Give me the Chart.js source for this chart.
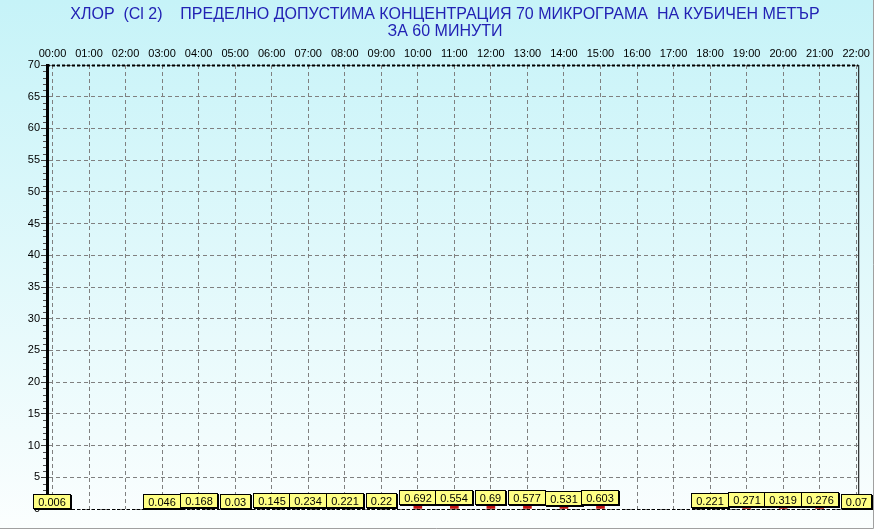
<!DOCTYPE html>
<html><head><meta charset="utf-8">
<script src="https://cdn.jsdelivr.net/npm/chart.js@4/dist/chart.umd.min.js"></script>
<style>html,body{margin:0;padding:0;background:#fff;overflow:hidden}canvas{display:block}</style>
</head><body>
<canvas id="c" width="874" height="529"></canvas>
<script>
const titleLines = [
  'ХЛОР  (Cl 2)    ПРЕДЕЛНО ДОПУСТИМА КОНЦЕНТРАЦИЯ 70 МИКРОГРАМА  НА КУБИЧЕН МЕТЪР',
  'ЗА 60 МИНУТИ'
];
const hours = [0,1,2,3,4,5,6,7,8,9,10,11,12,13,14,15,16,17,18,19,20,21,22];
const hourLabels = ['00:00','01:00','02:00','03:00','04:00','05:00','06:00','07:00','08:00','09:00','10:00','11:00','12:00','13:00','14:00','15:00','16:00','17:00','18:00','19:00','20:00','21:00','22:00'];
const values = [0.006,null,null,0.046,0.168,0.03,0.145,0.234,0.221,0.22,0.692,0.554,0.69,0.577,0.531,0.603,null,null,0.221,0.271,0.319,0.276,0.07];
const yMin = 0, yMax = 70, yStep = 5, yMinorStep = 1;

const FONT = '"Liberation Sans", Arial, sans-serif';

const decor = {
  id: 'decor',
  beforeDraw(chart) {
    const {ctx, width, height} = chart;
    const g = ctx.createLinearGradient(0, 0, 0, height);
    g.addColorStop(0, '#c6f3f8');
    g.addColorStop(1, '#fbfefe');
    ctx.save();
    ctx.fillStyle = g;
    ctx.fillRect(0, 0, width, height);
    ctx.restore();
  },
  afterDraw(chart) {
    const {ctx, chartArea: a, width, height} = chart;
    const y = chart.scales.y;
    ctx.save();
    // minor ticks
    ctx.strokeStyle = '#505050';
    ctx.lineWidth = 1;
    for (let v = yMin; v <= yMax; v += yMinorStep) {
      if (v % yStep === 0) continue;
      const py = Math.round(y.getPixelForValue(v)) + 0.5;
      ctx.beginPath(); ctx.moveTo(a.left - 4, py); ctx.lineTo(a.left - 1, py); ctx.stroke();
    }
    // right border
    ctx.strokeStyle = '#000';
    ctx.beginPath(); ctx.moveTo(a.right + 0.5, a.top); ctx.lineTo(a.right + 0.5, a.bottom); ctx.stroke();
    // bottom + top dashed borders
    ctx.setLineDash([3, 2]);
    ctx.beginPath(); ctx.moveTo(a.left, a.bottom + 0.5); ctx.lineTo(a.right, a.bottom + 0.5); ctx.stroke();
    ctx.lineWidth = 2;
    ctx.beginPath(); ctx.moveTo(a.left, a.top + 0.5); ctx.lineTo(a.right, a.top + 0.5); ctx.stroke();
    ctx.setLineDash([]);
    ctx.lineWidth = 1;
    // title
    ctx.fillStyle = '#2222b4';
    ctx.font = '16px ' + FONT;
    ctx.textAlign = 'center';
    ctx.textBaseline = 'middle';
    ctx.fillText(titleLines[0], 445, 15);
    ctx.fillText(titleLines[1], 445, 32);
    // value labels
    const meta = chart.getDatasetMeta(0);
    ctx.font = '11px ' + FONT;
    values.forEach((v, i) => {
      if (v === null) return;
      const el = meta.data[i];
      const txt = String(v);
      const w = Math.round(ctx.measureText(txt).width) + 10;
      const h = 15;
      const left = Math.round(el.x - w / 2);
      const top = Math.round(el.y - h);
      ctx.fillStyle = '#000';
      ctx.fillRect(left + 1, top + 1, w, h);
      ctx.fillStyle = '#ffff84';
      ctx.fillRect(left, top, w, h);
      ctx.strokeStyle = '#000';
      ctx.strokeRect(left + 0.5, top + 0.5, w - 1, h - 1);
      ctx.fillStyle = '#000';
      ctx.fillText(txt, left + w / 2, top + h / 2 + 1);
    });
    // outer gray frame
    ctx.strokeStyle = '#a0a0a0';
    ctx.beginPath(); ctx.moveTo(width - 0.5, 0); ctx.lineTo(width - 0.5, height - 0.5); ctx.lineTo(0, height - 0.5); ctx.stroke();
    ctx.restore();
  }
};

new Chart(document.getElementById('c'), {
  type: 'bar',
  data: {
    datasets: [{
      data: hours.map((h, i) => ({x: h, y: values[i]})),
      backgroundColor: '#c01414',
      borderWidth: 0,
      barThickness: 8
    }]
  },
  options: {
    responsive: false,
    animation: false,
    devicePixelRatio: 1,
    layout: {padding: {left: 0, right: 10, top: 35, bottom: 20}},
    plugins: {legend: {display: false}, tooltip: {enabled: false}, title: {display: false}},
    scales: {
      x: {
        type: 'linear',
        position: 'top',
        offset: false,
        min: -0.15,
        max: 22.055,
        afterFit(s) { s.height = 30; },
        ticks: {
          stepSize: 1, includeBounds: false, padding: 4, maxRotation: 0, autoSkip: false,
          color: '#000', font: {family: FONT, size: 11},
          callback: v => hourLabels[v] ?? ''
        },
        grid: {color: '#808080', offset: false, drawTicks: false, lineWidth: 1},
        border: {display: false, dash: [4, 3]}
      },
      y: {
        min: yMin, max: yMax,
        afterFit(s) { s.width = 47; },
        ticks: {stepSize: yStep, padding: 1, color: '#000', font: {family: FONT, size: 11}},
        grid: {color: '#808080', tickBorderDash: [], tickColor: '#404040', tickLength: 6, lineWidth: 1},
        border: {display: true, color: '#000', width: 3, dash: [4, 3]}
      }
    }
  },
  plugins: [decor]
});
</script>
</body></html>
